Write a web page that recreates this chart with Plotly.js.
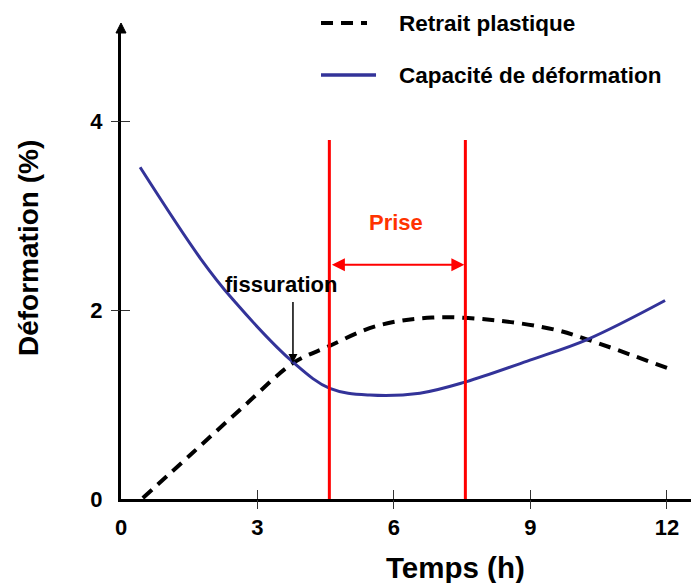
<!DOCTYPE html>
<html>
<head>
<meta charset="utf-8">
<script src="https://cdn.plot.ly/plotly-3.0.1.min.js"></script>
<style>html,body{margin:0;padding:0;background:#fff;}#chart{width:691px;height:583px;}</style>
</head>
<body>
<div id="chart"></div>
<script>
// ---- data ----
var retraitX = [0.48, 1.6, 2.72, 3.79, 4.54, 5.61, 6.84, 8.25, 9.56, 10.24, 12.04];
var retraitY = [0.01, 0.50, 0.99, 1.44, 1.61, 1.83, 1.92, 1.89, 1.79, 1.69, 1.38];
var capaciteX = [0.42, 1.74, 2.46, 3.80, 4.59, 5.47, 6.57, 7.58, 8.99, 10.26, 11.96];
var capaciteY = [3.51, 2.55, 2.11, 1.44, 1.17, 1.10, 1.12, 1.24, 1.47, 1.69, 2.10];
var priseBounds = [4.58, 7.57];
var priseTop = 3.8;
var priseArrowY = 2.48;
var fissurationPoint = [3.78, 1.44];
var xTicks = [0, 3, 6, 9, 12];
var yTicks = [0, 2, 4];
var seriesNames = ['Retrait plastique', 'Capacité de déformation'];

var FONT = '"Liberation Sans", Arial, sans-serif';
var BLUE = '#333399';
var RED = '#ff0000';

var traces = [
  {x: retraitX, y: retraitY, mode: 'lines', name: seriesNames[0], showlegend: false,
   line: {color: '#000', width: 4, dash: '12px,8px', shape: 'spline', smoothing: 1}, hoverinfo: 'skip'},
  {x: capaciteX, y: capaciteY, mode: 'lines', name: seriesNames[1], showlegend: false,
   line: {color: BLUE, width: 3, shape: 'spline', smoothing: 1}, hoverinfo: 'skip'},
  {x: [priseBounds[0], priseBounds[0], null, priseBounds[1], priseBounds[1]],
   y: [0, priseTop, null, 0, priseTop], mode: 'lines', showlegend: false,
   line: {color: RED, width: 3}, hoverinfo: 'skip'},
  {x: [], y: [], xaxis: 'x2', yaxis: 'y2', showlegend: false},
  {x: [], y: [], xaxis: 'x3', yaxis: 'y3', showlegend: false}
];

var xr = [0, 12.53];
var yr = [0, 4.963];
var crossX = xTicks.filter(function(v){return v > 0;});
var crossY = yTicks.filter(function(v){return v > 0;});

function tickAxis(range, vals, dir, overlay, anchor) {
  return {range: range, overlaying: overlay, anchor: anchor, tickmode: 'array', tickvals: vals,
          ticks: dir, ticklen: 9, tickwidth: 1, tickcolor: '#333', showticklabels: false,
          showline: false, showgrid: false, zeroline: false, fixedrange: true};
}

var layout = {
  width: 691, height: 583,
  margin: {l: 121, r: 0, t: 30, b: 84, pad: 0},
  paper_bgcolor: '#fff', plot_bgcolor: '#fff',
  font: {family: FONT, size: 22, color: '#000', weight: 700},
  showlegend: false,
  xaxis: {range: xr, tickmode: 'array', tickvals: xTicks, ticks: '', showgrid: false, zeroline: false,
          showline: true, linewidth: 3, linecolor: '#000', ticklabelstandoff: 7,
          tickfont: {family: FONT, size: 22, weight: 700, color: '#000'}, fixedrange: true},
  yaxis: {range: yr, tickmode: 'array', tickvals: yTicks, ticks: '', showgrid: false, zeroline: false,
          showline: true, linewidth: 3, linecolor: '#000', ticklabelstandoff: 11,
          tickfont: {family: FONT, size: 22, weight: 700, color: '#000'}, fixedrange: true},
  xaxis2: tickAxis(xr, crossX, 'outside', 'x', 'y'),
  xaxis3: tickAxis(xr, crossX, 'inside', 'x', 'y'),
  yaxis2: tickAxis(yr, crossY, 'outside', 'y', 'x'),
  yaxis3: tickAxis(yr, crossY, 'inside', 'y', 'x'),
  shapes: [
    {type: 'path', xref: 'paper', yref: 'paper', path: 'M -0.0088,0.9936 L 0,1.0149 L 0.0088,0.9936 Z',
     fillcolor: '#000', line: {color: '#000', width: 1}},
    {type: 'line', xref: 'paper', yref: 'paper', x0: 0.3509, x1: 0.4316, y0: 1.0149, y1: 1.0149,
     line: {color: '#000', width: 4, dash: '12px,8px'}},
    {type: 'line', xref: 'paper', yref: 'paper', x0: 0.3509, x1: 0.4474, y0: 0.904, y1: 0.904,
     line: {color: BLUE, width: 3.5}}
  ],
  annotations: [
    {xref: 'paper', yref: 'paper', x: 0.4842, y: 1.0149, xanchor: 'left', yanchor: 'middle', showarrow: false,
     text: seriesNames[0], font: {family: FONT, size: 22.5, weight: 700, color: '#000'}},
    {xref: 'paper', yref: 'paper', x: 0.4842, y: 0.904, xanchor: 'left', yanchor: 'middle', showarrow: false,
     text: seriesNames[1], font: {family: FONT, size: 22.5, weight: 700, color: '#000'}},
    {xref: 'paper', yref: 'paper', x: 0.5877, y: -0.1471, xanchor: 'center', yanchor: 'middle', showarrow: false,
     text: 'Temps (h)', font: {family: FONT, size: 29.5, weight: 700, color: '#000'}},
    {xref: 'paper', yref: 'paper', x: -0.1614, y: 0.5352, xanchor: 'center', yanchor: 'middle', showarrow: false,
     textangle: -90, text: 'Déformation (%)', font: {family: FONT, size: 28, weight: 700, color: '#000'}},
    {xref: 'x', yref: 'y', x: 3.52, y: 2.265, xanchor: 'center', yanchor: 'middle', showarrow: false,
     text: 'fissuration', font: {family: FONT, size: 22, weight: 700, color: '#000'}},
    {xref: 'x', yref: 'y', x: 6.05, y: 2.93, xanchor: 'center', yanchor: 'middle', showarrow: false,
     text: 'Prise', font: {family: FONT, size: 22, weight: 700, color: '#ff3300'}},
    {xref: 'x', yref: 'y', axref: 'x', ayref: 'y', x: fissurationPoint[0], y: fissurationPoint[1],
     ax: fissurationPoint[0], ay: 2.1, text: '', showarrow: true, arrowhead: 2, arrowsize: 1.2,
     arrowwidth: 1.5, arrowcolor: '#000', standoff: 0, startstandoff: 0},
    {xref: 'x', yref: 'y', axref: 'x', ayref: 'y', x: priseBounds[1], y: priseArrowY,
     ax: priseBounds[0], ay: priseArrowY, text: '', showarrow: true, arrowhead: 2, startarrowhead: 2,
     arrowside: 'end+start', arrowsize: 1.3, startarrowsize: 1.3, arrowwidth: 2, arrowcolor: RED,
     standoff: 1, startstandoff: 1}
  ]
};

Plotly.newPlot('chart', traces, layout, {staticPlot: true, displayModeBar: false});
</script>
</body>
</html>
